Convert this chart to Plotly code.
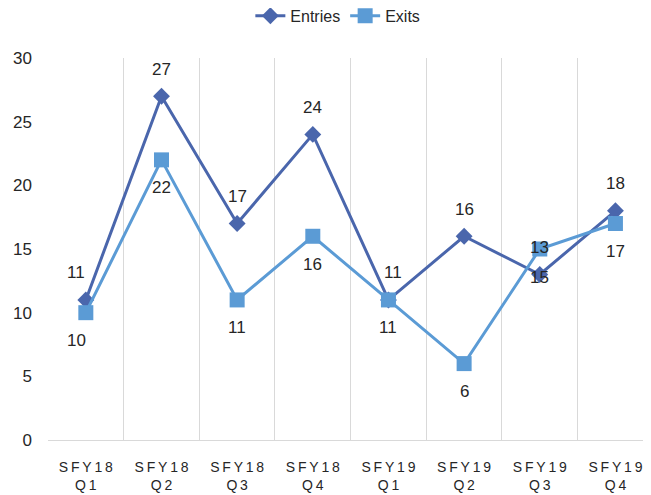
import plotly.graph_objects as go

# trimestres y valores
trimestres = ['SFY18 Q1', 'SFY18 Q2', 'SFY18 Q3', 'SFY18 Q4',
              'SFY19 Q1', 'SFY19 Q2', 'SFY19 Q3', 'SFY19 Q4']
entradas = [11, 27, 17, 24, 11, 16, 13, 18]
salidas = [10, 22, 11, 16, 11, 6, 15, 17]

def espaciar(txt):
    # separa las letras como en la etiqueta original
    lineas = txt.split(' ')
    return '<br>'.join('\u2009'.join(l) for l in lineas)

etiquetas = [espaciar(t) for t in trimestres]

fig = go.Figure()
fig.add_trace(go.Scatter(
    x=etiquetas, y=entradas, name='Entries', mode='lines+markers',
    line=dict(color='#4A66AC', width=3),
    marker=dict(symbol='diamond', size=13, color='#4A66AC')))
fig.add_trace(go.Scatter(
    x=etiquetas, y=salidas, name='Exits', mode='lines+markers',
    line=dict(color='#5B9BD5', width=3),
    marker=dict(symbol='square', size=15, color='#5B9BD5')))

# etiquetas de datos: entradas arriba, salidas abajo
for i, (xe, v) in enumerate(zip(etiquetas, entradas)):
    dx = -10 if i == 0 else (5 if i == 4 else 0)
    fig.add_annotation(x=xe, y=v, text=str(v), showarrow=False,
                       yshift=27, xshift=dx, font=dict(size=17, color='#262626'))
for i, (xe, v) in enumerate(zip(etiquetas, salidas)):
    dx = -9 if i == 0 else 0
    fig.add_annotation(x=xe, y=v, text=str(v), showarrow=False,
                       yshift=-28, xshift=dx, font=dict(size=17, color='#262626'))

# la pagina tiene 8px de margen en el body, por eso 643x487
fig.update_layout(
    width=643, height=487,
    margin=dict(l=40, r=0, t=50, b=55, autoexpand=False),
    paper_bgcolor='white', plot_bgcolor='white',
    font=dict(family='Liberation Sans', color='#262626'),
    legend=dict(orientation='h', xref='container', x=0.513, xanchor='center',
                yref='container', y=0.984, yanchor='middle',
                font=dict(size=16, color='#262626')),
    showlegend=True)
fig.update_xaxes(type='category', tickson='boundaries', showgrid=True,
                 range=[-0.5, 7.47],
                 gridcolor='#D9D9D9', gridwidth=1, ticks='',
                 showline=True, linecolor='#D9D9D9', automargin=False,
                 ticklabelstandoff=14,
                 tickfont=dict(size=14, color='#262626'))
fig.update_yaxes(range=[0, 30], dtick=5, showgrid=False, zeroline=False,
                 showline=False, ticks='', ticklabelstandoff=15, automargin=False,
                 tickfont=dict(size=17, color='#262626'))

fig.write_html('out.html')
